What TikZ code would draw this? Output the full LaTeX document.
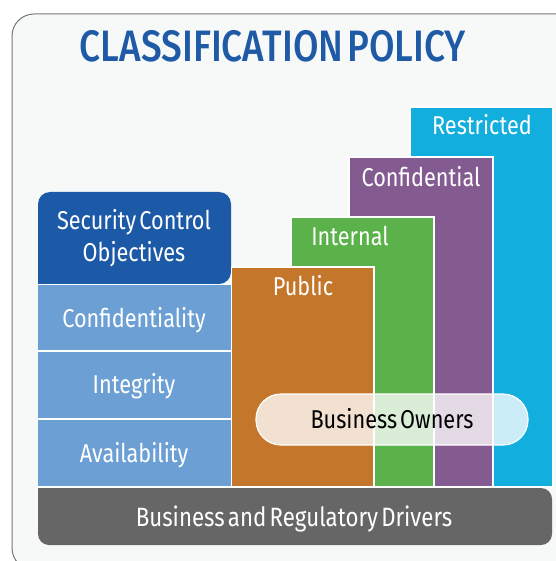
\documentclass[tikz,border=0pt]{standalone}
\usepackage{fontspec}
\setmainfont{Fira Sans}[FakeStretch=0.84,WordSpace=0.55]
\newfontfamily\titlefont{Fira Sans}[FakeStretch=0.84,WordSpace=0.45,UprightFont=* Medium]
\definecolor{bg}{HTML}{F7F9F9}
\definecolor{frame}{HTML}{777777}
\definecolor{titleblue}{HTML}{1F5AA6}
\definecolor{darkblue}{HTML}{1C5AA8}
\definecolor{lightblue}{HTML}{6CA0D4}
\definecolor{pubc}{HTML}{C4772B}
\definecolor{intc}{HTML}{5BB14A}
\definecolor{confc}{HTML}{845B91}
\definecolor{restc}{HTML}{12AEDD}
\definecolor{barc}{HTML}{666666}
\tikzset{
  lvl/.style={draw=white, line width=1.2pt},
  lbl/.style={text=white, font=\fontsize{25.8}{30}\selectfont, anchor=base},
  cell/.style={fill=lightblue, draw=none},
}
\begin{document}
\begin{tikzpicture}[x=1pt,y=-1pt]
\useasboundingbox (0,0) rectangle (555,561);
% outer frame
\draw[frame, fill=bg, line width=1pt, rounded corners=22pt] (12,14) rectangle (580,570);
% title
\node[text=titleblue, font=\titlefont\fontsize{44}{48}\selectfont, anchor=base] (title) at (273,62) {CLASSIFICATION POLICY};
% classification levels
\path[lvl, fill=restc] (410,107) rectangle (553,487);
\path[lvl, fill=confc] (349,157) rectangle (493,487);
\path[lvl, fill=intc] (291,217) rectangle (434,487);
\path[lvl, fill=pubc] (231,267) rectangle (374,487);
\node[lbl] (restricted) at (482,135) {Restricted};
\node[lbl] (confidential) at (421,186) {Confidential};
\node[lbl] (internal) at (350,245) {Internal};
\node[lbl] (public) at (303,295) {Public};
% security control objectives column
\fill[darkblue, rounded corners=12pt] (38,284) -- (38,192) -- (231,192) -- (231,284) [sharp corners] -- cycle;
\fill[cell] (38,284) rectangle (231,487);
\draw[white, line width=1.2pt] (38,284.5) -- (231,284.5);
\draw[white, line width=1.2pt] (38,351) -- (231,351);
\draw[white, line width=1.2pt] (38,419) -- (231,419);
\draw[white, line width=1.2pt] (38,487) -- (231,487);
\draw[white, line width=1pt] (231,267) -- (231,487);
\node[lbl, align=center, anchor=center, font=\fontsize{25.8}{32}\selectfont] (sco) at (134,238) {Security Control\\Objectives};
\node[lbl] (conf) at (134,327) {Confidentiality};
\node[lbl] (integ) at (134,393) {Integrity};
\node[lbl] (avail) at (134,462) {Availability};
% bottom bar
\fill[barc, rounded corners=11pt] (38,488) -- (38,545) -- (552,545) -- (552,488) [sharp corners] -- cycle;
\node[lbl, font=\fontsize{26.5}{30}\selectfont] (drivers) at (294,526) {Business and Regulatory Drivers};
% business owners pill
\draw[white, line width=1.2pt, fill=white, fill opacity=0.78, rounded corners=25pt] (256,394) rectangle (528,445);
\node[lbl, text=black] (owners) at (392,428) {Business Owners};
\end{tikzpicture}
\end{document}
